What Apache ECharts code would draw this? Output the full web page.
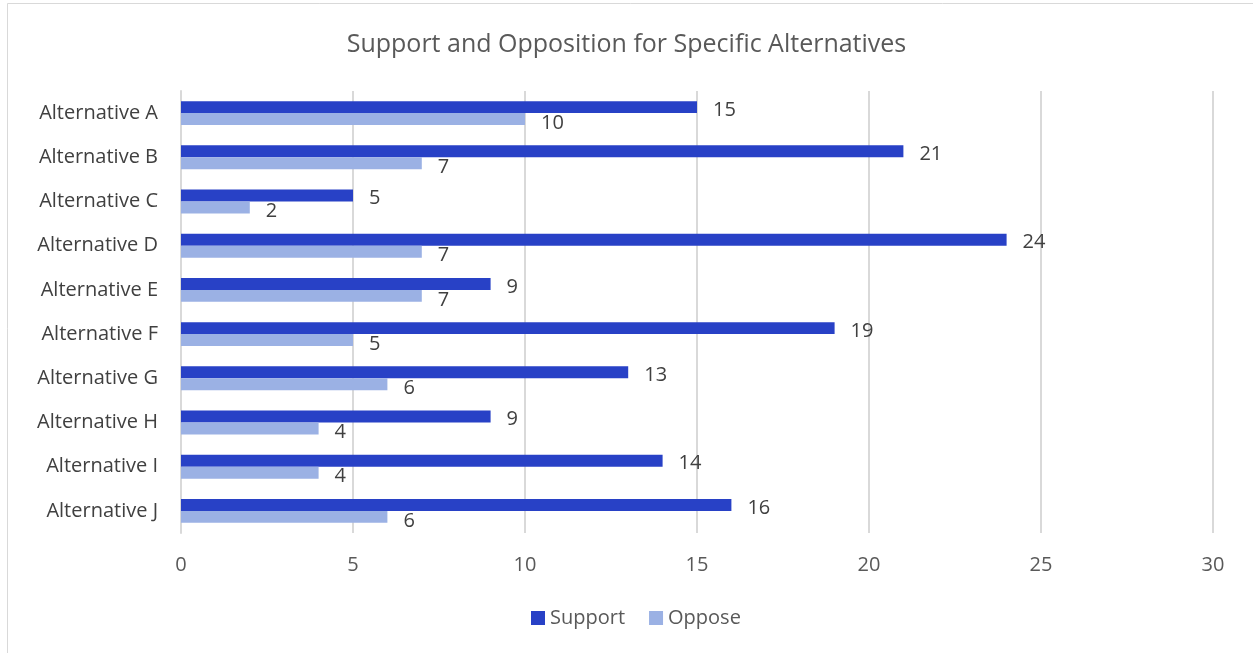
<!DOCTYPE html>
<html>
<head>
<meta charset="utf-8">
<script src="https://cdn.jsdelivr.net/npm/echarts@6/dist/echarts.min.js"></script>
<style>html,body{margin:0;padding:0;background:#fff}#c{width:1253px;height:653px}</style>
</head>
<body>
<div id="c"></div>
<script>
const categories = ["Alternative A","Alternative B","Alternative C","Alternative D","Alternative E","Alternative F","Alternative G","Alternative H","Alternative I","Alternative J"];
const support = [15,21,5,24,9,19,13,9,14,16];
const oppose = [10,7,2,7,7,5,6,4,4,6];
const seriesNames = ["Support","Oppose"];

const chart = echarts.init(document.getElementById('c'), null, {renderer:'canvas'});
const font = '"Open Sans", "Noto Sans", sans-serif';
const lbl = {show:true, position:'right', distance:16, color:'#404040', fontSize:20, fontFamily:font};
chart.setOption({
  animation:false,
  backgroundColor:'#fff',
  graphic:[{type:'rect', shape:{x:7.5,y:3.5,width:1260,height:660}, style:{fill:'none', stroke:'#d9d9d9', lineWidth:1}}],
  title:{text:'Support and Opposition for Specific Alternatives', left:'center', top:27,
    textStyle:{fontFamily:font, fontSize:25, fontWeight:'normal', color:'#595959'}},
  legend:{data:seriesNames, bottom:20, left:526, itemWidth:14, itemHeight:14, itemGap:24,
    icon:'rect', textStyle:{fontFamily:font, fontSize:20, color:'#595959'}},
  grid:{left:181, right:40, top:91, bottom:120},
  xAxis:{type:'value', min:0, max:30, interval:5,
    axisLine:{show:false}, axisTick:{show:false},
    splitLine:{lineStyle:{color:'#d9d9d9', width:2}},
    axisLabel:{margin:22, fontFamily:font, fontSize:20, color:'#595959'}},
  yAxis:{type:'category', data:categories, inverse:true,
    axisLine:{lineStyle:{color:'#d9d9d9', width:2}}, axisTick:{show:false},
    axisLabel:{margin:23, fontFamily:font, fontSize:20, color:'#404040'}},
  series:[
    {name:seriesNames[0], type:'bar', data:support, barGap:'0%', barCategoryGap:'46%',
      itemStyle:{color:'#2841c6'}, label:Object.assign({}, lbl, {offset:[0,3]})},
    {name:seriesNames[1], type:'bar', data:oppose,
      itemStyle:{color:'#9bb1e4'}, label:Object.assign({}, lbl, {offset:[0,4]})}
  ]
});
</script>
</body>
</html>
